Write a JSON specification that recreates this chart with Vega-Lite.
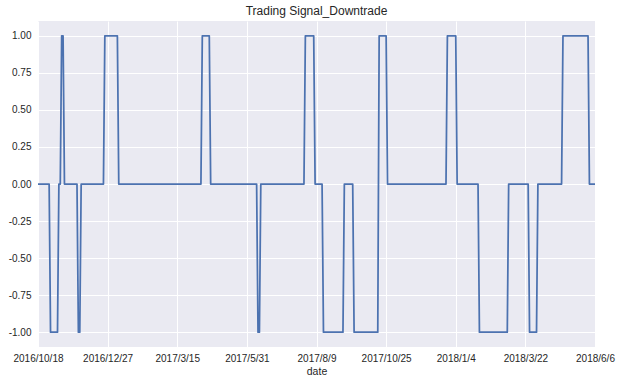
{
  "$schema": "https://vega.github.io/schema/vega-lite/v6.json",
  "width": 557,
  "height": 326,
  "autosize": {"type": "none"},
  "padding": {"left": 38, "top": 21, "right": 26, "bottom": 37},
  "background": "white",
  "title": {"text": "Trading Signal_Downtrade", "fontSize": 12, "fontWeight": "normal", "font": "Liberation Sans", "color": "#262626", "offset": 3, "anchor": "middle"},
  "config": {
    "view": {"fill": "#EAEAF2", "stroke": null},
    "axis": {"domain": false, "ticks": false, "gridColor": "white", "gridWidth": 1, "gridOpacity": 1, "labelFont": "Liberation Sans", "labelFontSize": 10, "labelColor": "#262626", "titleFont": "Liberation Sans", "titleFontSize": 10.5, "titleFontWeight": "normal", "titleColor": "#262626"}
  },
  "data": {"values": [
    {"i": 0, "signal": 0}, {"i": 8, "signal": 0}, {"i": 9, "signal": -1}, {"i": 14, "signal": -1},
    {"i": 15, "signal": 0}, {"i": 16, "signal": 0}, {"i": 17, "signal": 1}, {"i": 18, "signal": 1},
    {"i": 19, "signal": 0}, {"i": 28, "signal": 0}, {"i": 29, "signal": -1}, {"i": 30, "signal": -1},
    {"i": 31, "signal": 0}, {"i": 47, "signal": 0}, {"i": 48, "signal": 1}, {"i": 57, "signal": 1},
    {"i": 58, "signal": 0}, {"i": 117, "signal": 0}, {"i": 118, "signal": 1}, {"i": 123, "signal": 1},
    {"i": 124, "signal": 0}, {"i": 157, "signal": 0}, {"i": 158, "signal": -1}, {"i": 159, "signal": -1},
    {"i": 160, "signal": 0}, {"i": 191, "signal": 0}, {"i": 192, "signal": 1}, {"i": 198, "signal": 1},
    {"i": 199, "signal": 0}, {"i": 204, "signal": 0}, {"i": 205, "signal": -1}, {"i": 219, "signal": -1},
    {"i": 220, "signal": 0}, {"i": 226, "signal": 0}, {"i": 227, "signal": -1}, {"i": 244, "signal": -1},
    {"i": 245, "signal": 1}, {"i": 250, "signal": 1}, {"i": 251, "signal": 0}, {"i": 293, "signal": 0},
    {"i": 294, "signal": 1}, {"i": 300, "signal": 1}, {"i": 301, "signal": 0}, {"i": 316, "signal": 0},
    {"i": 317, "signal": -1}, {"i": 337, "signal": -1}, {"i": 338, "signal": 0}, {"i": 352, "signal": 0},
    {"i": 353, "signal": -1}, {"i": 358, "signal": -1}, {"i": 359, "signal": 0}, {"i": 376, "signal": 0},
    {"i": 377, "signal": 1}, {"i": 395, "signal": 1}, {"i": 396, "signal": 0}, {"i": 400, "signal": 0}
  ]},
  "mark": {"type": "line", "color": "#4C72B0", "strokeWidth": 1.75, "strokeJoin": "round"},
  "encoding": {
    "x": {
      "field": "i", "type": "quantitative",
      "scale": {"domain": [0, 400], "nice": false, "zero": false},
      "axis": {
        "title": "date", "titlePadding": 3,
        "values": [0, 50, 100, 150, 200, 250, 300, 350, 400],
        "labelExpr": "['2016/10/18','2016/12/27','2017/3/15','2017/5/31','2017/8/9','2017/10/25','2018/1/4','2018/3/22','2018/6/6'][round(datum.value/50)]",
        "labelFlush": false, "labelOverlap": false, "labelPadding": 6
      }
    },
    "y": {
      "field": "signal", "type": "quantitative",
      "scale": {"domain": [-1.1, 1.1], "nice": false, "zero": false},
      "axis": {
        "title": null,
        "values": [-1, -0.75, -0.5, -0.25, 0, 0.25, 0.5, 0.75, 1],
        "labelExpr": "datum.value < 0 ? '-' + format(abs(datum.value), '.2f') : format(datum.value, '.2f')",
        "labelPadding": 7
      }
    }
  }
}
